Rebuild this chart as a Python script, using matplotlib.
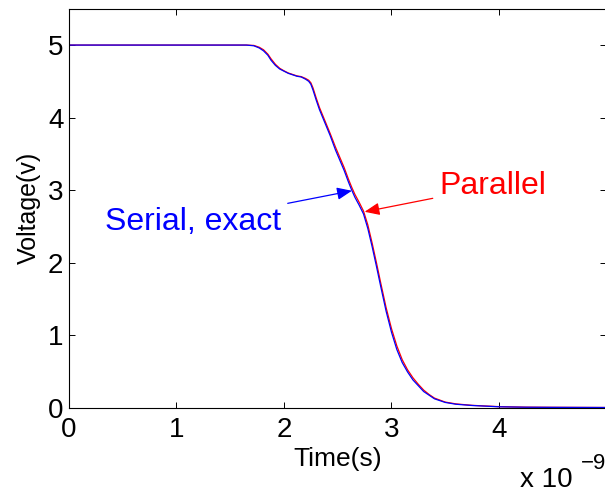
import matplotlib
matplotlib.use("Agg")
import matplotlib.pyplot as plt

plt.rcParams["font.family"] = ["Liberation Sans", "DejaVu Sans"]

# time in ns, voltage in V
tiempo = [0.0, 0.5, 1.0, 1.5, 1.65, 1.72, 1.77, 1.81, 1.85, 1.88, 1.92, 1.96,
          2.00, 2.04, 2.08, 2.12, 2.16, 2.20, 2.23, 2.25, 2.27, 2.30, 2.33,
          2.38, 2.43, 2.48, 2.52, 2.56, 2.60, 2.63, 2.66, 2.70, 2.74, 2.78,
          2.82, 2.86, 2.90, 2.95, 3.00, 3.05, 3.10, 3.15, 3.20, 3.25, 3.30,
          3.35, 3.40, 3.50, 3.60, 3.75, 4.00, 4.25, 4.50, 5.00]

v_serial = [5.0, 5.0, 5.0, 5.0, 5.0, 4.99, 4.96, 4.92, 4.86, 4.79, 4.72, 4.67,
            4.64, 4.61, 4.59, 4.57, 4.56, 4.53, 4.50, 4.46, 4.38, 4.24, 4.11,
            3.93, 3.75, 3.55, 3.41, 3.27, 3.11, 3.00, 2.90, 2.79, 2.67, 2.47,
            2.22, 1.95, 1.67, 1.33, 1.04, 0.80, 0.62, 0.49, 0.38, 0.30, 0.22,
            0.17, 0.12, 0.07, 0.045, 0.028, 0.010, 0.004, 0.002, 0.0]

v_parallel = [5.0, 5.0, 5.0, 5.0, 5.0, 4.995, 4.97, 4.935, 4.875, 4.81, 4.735, 4.68,
              4.645, 4.615, 4.595, 4.575, 4.565, 4.54, 4.515, 4.48, 4.41, 4.27, 4.14,
              3.96, 3.78, 3.59, 3.45, 3.31, 3.15, 3.04, 2.94, 2.83, 2.71, 2.52,
              2.27, 2.00, 1.72, 1.38, 1.09, 0.85, 0.66, 0.52, 0.41, 0.32, 0.24,
              0.18, 0.13, 0.075, 0.05, 0.03, 0.012, 0.005, 0.003, 0.0]

fig = plt.figure(figsize=(6.05, 4.93), dpi=100)
ax = fig.add_axes([0.114, 0.1734, 0.8884, 0.8087])

ax.plot(tiempo, v_parallel, color="red", linewidth=0.9)
ax.plot(tiempo, v_serial, color="blue", linewidth=0.9)

ax.set_xlim(0, 5)
ax.set_ylim(0, 5.5)
ax.set_xticks([0, 1, 2, 3, 4])
ax.set_xticklabels(["0", "1", "2", "3", "4"])
ax.set_yticks([0, 1, 2, 3, 4, 5])
ax.set_yticklabels(["0", "1", "2", "3", "4", "5"])
ax.tick_params(direction="in", top=True, right=True, length=4, width=0.7,
               labelsize=20)
ax.tick_params(axis="x", pad=7)
ax.tick_params(axis="y", pad=4)
for s in ax.spines.values():
    s.set_linewidth(0.8)

ax.set_xlabel("Time(s)", fontsize=19)
ax.set_ylabel("Voltage(v)", fontsize=18)
ax.xaxis.set_label_coords(0.5, -0.098)
ax.yaxis.set_label_coords(-0.053, 0.5)

ax.annotate("Serial, exact", xy=(2.632, 2.99), xytext=(0.333, 2.45),
            color="blue", fontsize=23, ha="left", va="baseline",
            arrowprops=dict(arrowstyle="-|>,head_length=0.6,head_width=0.25",
                            color="blue", lw=0.9, mutation_scale=15,
                            shrinkA=3, shrinkB=0))
ax.annotate("Parallel", xy=(2.75, 2.70), xytext=(3.448, 2.94),
            color="red", fontsize=23, ha="left", va="baseline",
            arrowprops=dict(arrowstyle="-|>,head_length=0.6,head_width=0.25",
                            color="red", lw=0.9, mutation_scale=15,
                            shrinkA=3, shrinkB=0))

# offset label of the time axis
fig.text(520 / 605, 1 - 487 / 493, "x 10", fontsize=20, ha="left", va="baseline")
fig.text(581 / 605, 1 - 469 / 493, "\u22129", fontsize=16, ha="left", va="baseline")

fig.savefig("out.png", dpi=100)
